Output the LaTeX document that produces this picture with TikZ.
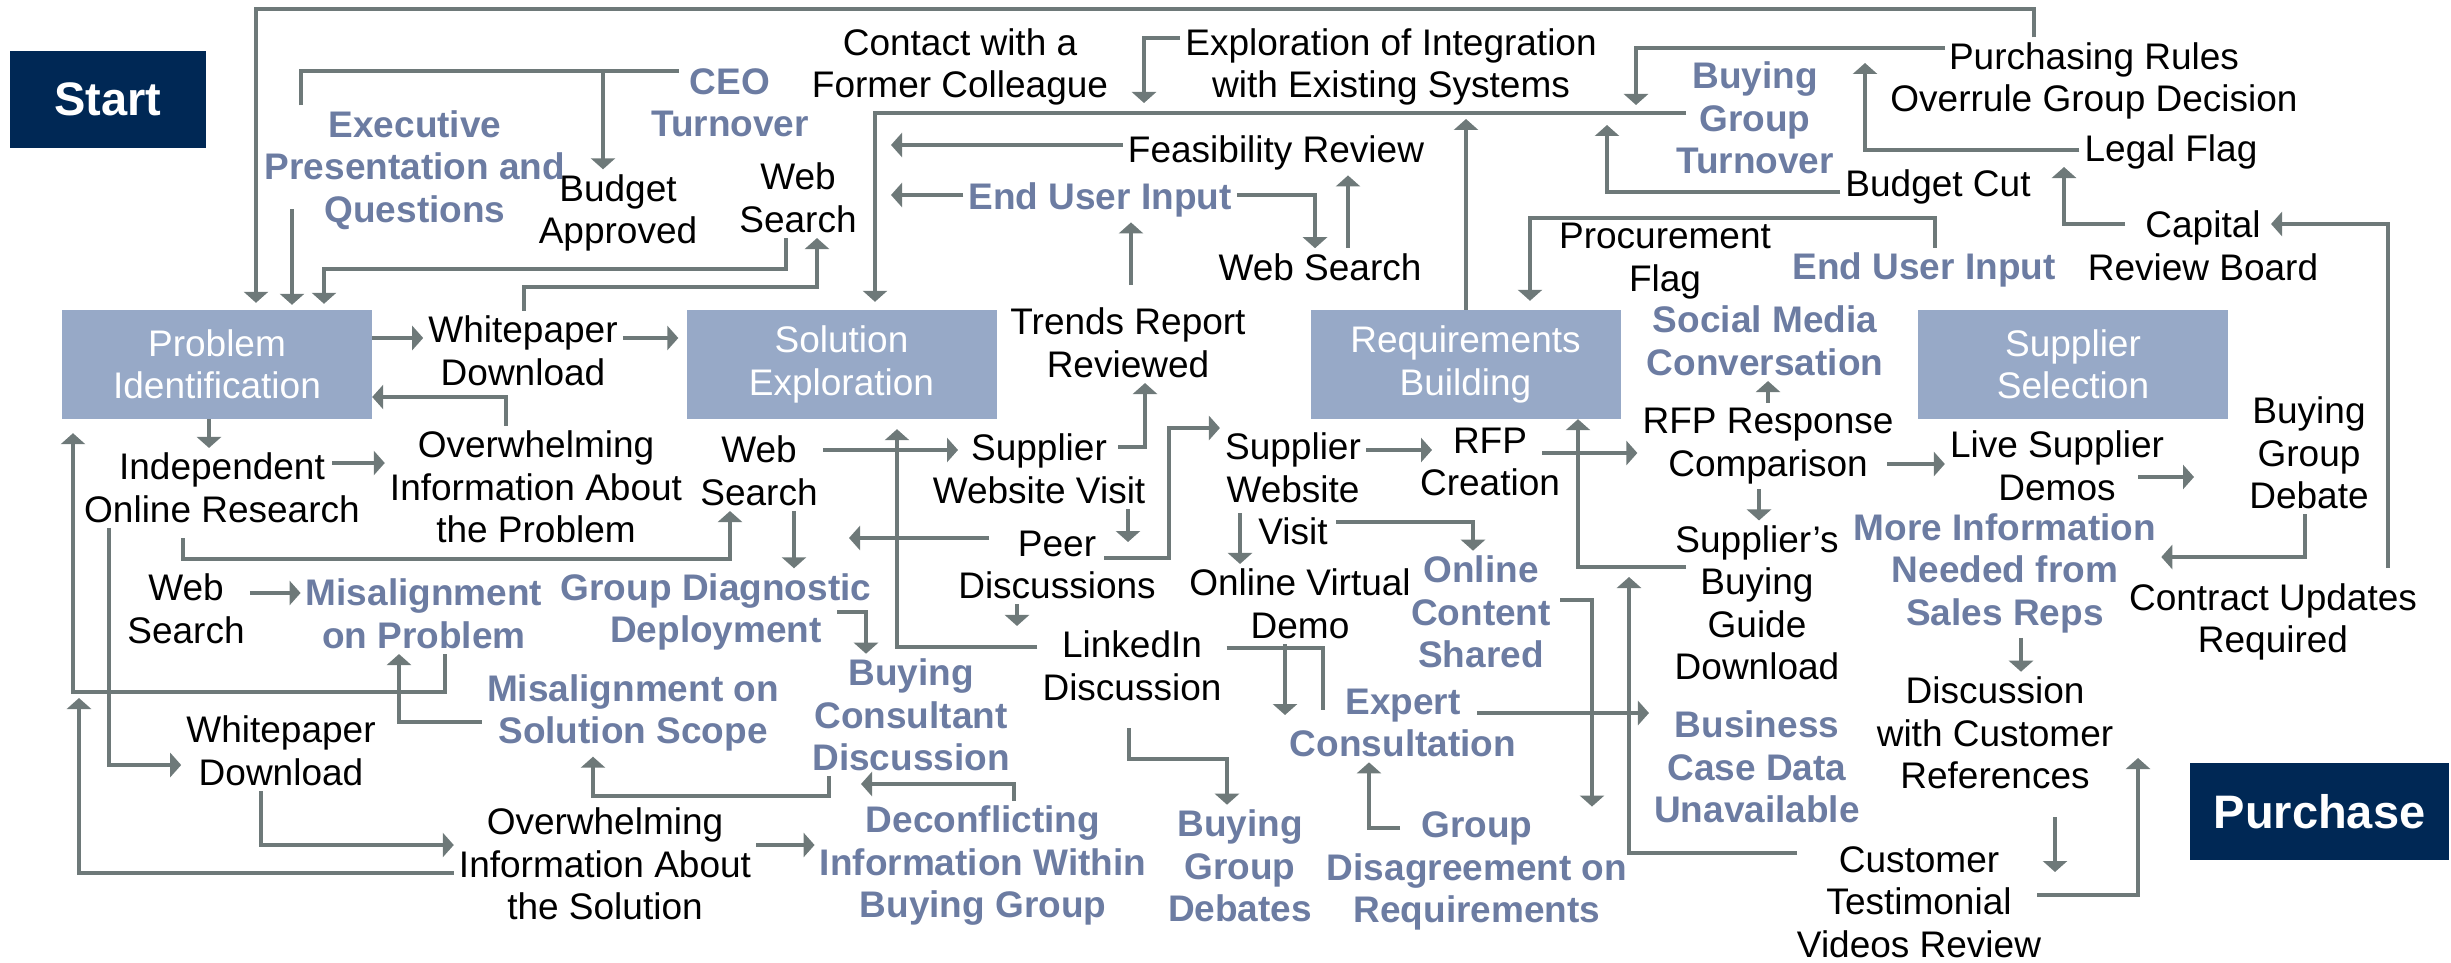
\documentclass[tikz,border=0pt]{standalone}
\usepackage{fontspec}
\setmainfont{Liberation Sans}
\usetikzlibrary{arrows.meta}
\definecolor{wirecol}{RGB}{110,121,121}
\definecolor{hotblue}{RGB}{108,124,162}
\definecolor{stagefill}{RGB}{151,169,199}
\definecolor{navy}{RGB}{0,40,85}

\begin{document}
\begin{tikzpicture}[x=1pt,y=-1pt,
  txt/.style={align=center,font=\fontsize{37}{42.5}\selectfont,inner sep=5pt,text=black},
  hot/.style={align=center,font=\fontsize{37}{42.5}\selectfont\bfseries,inner sep=5pt,text=hotblue},
  stage/.style={fill=stagefill,text=white,align=center,font=\fontsize{37}{42.5}\selectfont,
    minimum width=310pt,minimum height=109pt,inner sep=0pt},
  term/.style={fill=navy,text=white,font=\fontsize{47}{52}\selectfont\bfseries,inner sep=0pt,
    minimum height=97pt},
  plain/.style={draw=wirecol,line width=4.5pt},
  link/.style={plain,-{Triangle[width=24pt,length=11pt]}}
]
\useasboundingbox (0,0) rectangle (2451,963);

% terminals
\node[term,minimum width=196pt] (start) at (108,99.5) {Start};
\node[term,minimum width=259pt] (buy) at (2319.5,811.5) {Purchase};

% stages
\node[stage] (pi) at (217,364.5) {Problem\\Identification};
\node[stage] (se) at (841.5,364.5) {Solution\\Exploration};
\node[stage] (rb) at (1465.5,364.5) {Requirements\\Building};
\node[stage] (ss) at (2073,364.5) {Supplier\\Selection};

% events
\node[hot] (exec) at (415,170) {Executive\\Presentation and\\Questions};
\node[hot] (ceo) at (730,103) {CEO\\Turnover};
\node[txt] (budget) at (618,213) {Budget\\Approved};
\node[txt] (ws1) at (798,198) {Web\\Search};
\node[txt] (contact) at (960,67) {Contact with a\\Former Colleague};
\node[txt] (integ) at (1391,67) {Exploration of Integration\\with Existing Systems};
\node[hot] (bgturn) at (1755,118) {Buying\\Group\\Turnover};
\node[txt] (purch) at (2094,81) {Purchasing Rules\\Overrule Group Decision};
\node[txt] (legal) at (2171,152) {Legal Flag};
\node[txt] (bcut) at (1938,187) {Budget Cut};
\node[txt] (capital) at (2203,246) {Capital\\Review Board};
\node[txt] (feas) at (1276,153) {Feasibility Review};
\node[hot] (eui1) at (1100,200) {End User Input};
\node[txt] (ws2) at (1320,267) {Web Search};
\node[txt] (trends) at (1128,343) {Trends Report\\Reviewed};
\node[txt] (procure) at (1665,261) {Procurement\\Flag};
\node[hot] (eui2) at (1924,270) {End User Input};
\node[hot] (social) at (1765,341) {Social Media\\Conversation};
\node[txt] (wd1) at (523,351) {Whitepaper\\Download};
\node[txt] (indep) at (222,488) {Independent\\Online Research};
\node[txt] (owp) at (536,487) {Overwhelming\\Information About\\the Problem};
\node[txt] (ws3) at (759,471) {Web\\Search};
\node[txt] (swv1) at (1039,469) {Supplier\\Website Visit};
\node[txt] (peer) at (1057,565) {Peer\\Discussions};
\node[txt] (swv2) at (1293,489) {Supplier\\Website\\Visit};
\node[txt] (rfp) at (1490,462) {RFP\\Creation};
\node[txt] (rfpr) at (1768,446) {RFP Response\\Comparison};
\node[txt] (live) at (2057,466) {Live Supplier\\Demos};
\node[txt] (bgd) at (2309,453) {Buying\\Group\\Debate};
\node[txt] (ws4) at (186,609) {Web\\Search};
\node[hot] (misp) at (424,614) {Misalignment\\on Problem};
\node[hot] (gdd) at (716,612) {Group Diagnostic\\Deployment};
\node[txt] (ovd) at (1300,604) {Online Virtual\\Demo};
\node[hot] (ocs) at (1481,612) {Online\\Content\\Shared};
\node[txt] (sbg) at (1757,603) {Supplier’s\\Buying\\Guide\\Download};
\node[hot] (more) at (2005,573) {More Information\\Needed from\\Sales Reps};
\node[txt] (contract) at (2273,622) {Contract Updates\\Required};
\node[txt] (linked) at (1132,666) {LinkedIn\\Discussion};
\node[hot] (miss) at (633,713) {Misalignment on\\Solution Scope};
\node[hot] (bcd) at (911,715) {Buying\\Consultant\\Discussion};
\node[hot] (expert) at (1403,723) {Expert\\Consultation};
\node[hot] (bcase) at (1757,767) {Business\\Case Data\\Unavailable};
\node[txt] (disc) at (1995,733) {Discussion\\with Customer\\References};
\node[txt] (wd2) at (281,751) {Whitepaper\\Download};
\node[txt] (ows) at (605,864) {Overwhelming\\Information About\\the Solution};
\node[hot] (decon) at (983,866) {Deconflicting\\Information Within\\Buying Group};
\node[hot] (bgdb) at (1240,866) {Buying\\Group\\Debates};
\node[hot] (gdis) at (1477,871) {Group\\Disagreement on\\Requirements};
\node[txt] (cust) at (1919,902) {Customer\\Testimonial\\Videos Review};

% merge points on shared lines
\coordinate (joinL) at (79,698);
\coordinate (joinR) at (1629,577);
\coordinate (joinP) at (1865,63);
\coordinate (joinT) at (1636,105);
\coordinate (joinI) at (1144,103);

% --- top area
\draw[link,shorten >=7pt] (purch.north -| 2034,0) |- (256,9) -- (pi.north -| 256,0);
\draw[link] (exec.north -| 301,0) |- (603,71) -- (budget.north -| 603,0);
\draw[plain] (679,71) -- (603,71);
\draw[link,shorten >=5pt] (292,209) -- (pi.north -| 292,0);
\draw[link,shorten >=6pt] (ws1.south -| 786,0) |- (324,269) -- (pi.north -| 324,0);
\draw[link] (wd1.north -| 524,0) |- (817,287) -- (ws1.south -| 817,0);

% --- problem identification
\draw[link] (pi.east |- 0,338) -- (wd1.west |- 0,338);
\draw[link,shorten >=8pt] (wd1.east |- 0,338) -- (se.west |- 0,338);
\draw[link] (owp.north -| 506,0) |- (pi.east |- 0,397);
\draw[link] (pi.south -| 209,0) -- (indep.north -| 209,0);
\draw[link] (332,463) -- (owp.west |- 0,463);
\draw[link] (183,538) |- (730,559) -- (ws3.south -| 730,0);
\draw[link,shorten >=14pt] (misp.south -| 445,0) |- (73,692) -- (pi.south -| 73,0);
\draw[link] (indep.south -| 109,0) |- (wd2.west |- 0,765);
\draw[link] (ws4.east |- 0,593) -- (misp.west |- 0,593);
\draw[link] (miss.west |- 0,722) -| (misp.south -| 399,0);
\draw[link] (ows.west |- 0,873) -| (joinL);
\draw[link] (wd2.south -| 261,0) |- (ows.west |- 0,845);
\draw[link] (bcd.south -| 829,0) |- (593,796) -- (miss.south -| 593,0);
\draw[link] (ows.east |- 0,845) -- (decon.west |- 0,845);
\draw[link] (decon.north -| 1014,0) |- (861,784);
\draw[link] (837,612) -| (bcd.north -| 866,0);
\draw[link] (ws3.south -| 794,0) -- (gdd.north -| 794,0);

% --- solution exploration
\draw[link,shorten >=10pt] (linked.west |- 0,647) -| (se.south -| 897,0);
\draw[link] (989,538) -- (849,538);
\draw[link] (ws3.east |- 0,450) -- (958,450);
\draw[link] (1118,447) -| (trends.south -| 1145,0);
\draw[link] (1131,285) -- (eui1.south -| 1131,0);
\draw[link] (swv1.south -| 1128,0) -- (1128,542);
\draw[link] (1104,558) -| (1169,428) -- (swv2.west |- 0,428);
\draw[link] (peer.south -| 1017,0) -- (linked.north -| 1017,0);
\draw[link] (1129,728) |- (1227,759) -- (bgdb.north -| 1227,0);
\draw[plain] (linked.east |- 0,648) -| (1323,710);
\draw[link] (ovd.south -| 1285,0) -- (1285,715);
\draw[link] (1477,713) -- (bcase.west |- 0,713);
\draw[link] (1400,828) -| (expert.south -| 1369,0);
\draw[link] (1560,600) -| (gdis.north -| 1592,0);
\draw[link] (1240,513) -- (ovd.north -| 1240,0);
\draw[link] (1336,522) -| (ocs.north -| 1473,0);
\draw[link,shorten >=8pt] (1686,113) -| (se.north -| 875,0);
\draw[link] (integ.west |- 0,38) -| (joinI);
\draw[link] (feas.west |- 0,145) -- (891,145);
\draw[link] (eui1.west |- 0,195) -- (891,195);
\draw[link] (eui1.east |- 0,195) -| (ws2.north -| 1315,0);
\draw[link] (ws2.north -| 1348,0) -- (feas.south -| 1348,0);

% --- requirements building
\draw[link] (swv2.east |- 0,450) -- (1432,450);
\draw[link] (1542,453) -- (rfpr.west |- 0,453);
\draw[link] (rfpr.north -| 1768,0) -- (social.south -| 1768,0);
\draw[link] (rfpr.south -| 1759,0) -- (sbg.north -| 1759,0);
\draw[link] (1686,567) -| (rb.south -| 1578,0);
\draw[link] (1797,853) -| (joinR);
\draw[link] (rb.north -| 1466,0) -- (1466,119);
\draw[link] (bcut.west |- 0,192) -| (1607,125);
\draw[link,shorten >=9pt] (eui2.north -| 1935,0) |- (1530,218) -- (rb.north -| 1530,0);
\draw[link] (1945,48) -| (joinT);
\draw[link] (legal.west |- 0,150) -| (joinP);

% --- supplier selection
\draw[link] (1887,464) -- (live.west |- 0,464);
\draw[link] (2138,477) -- (2194,477);
\draw[link] (bgd.south -| 2305,0) |- (more.east |- 0,557);
\draw[link] (more.south -| 2021,0) -- (disc.north -| 2021,0);
\draw[link] (2055,817) -- (2055,872);
\draw[link] (2037,895) -| (2138,758);
\draw[link] (2388,568) |- (2271,224);
\draw[link] (2125,224) -| (2064,167);
\end{tikzpicture}
\end{document}
